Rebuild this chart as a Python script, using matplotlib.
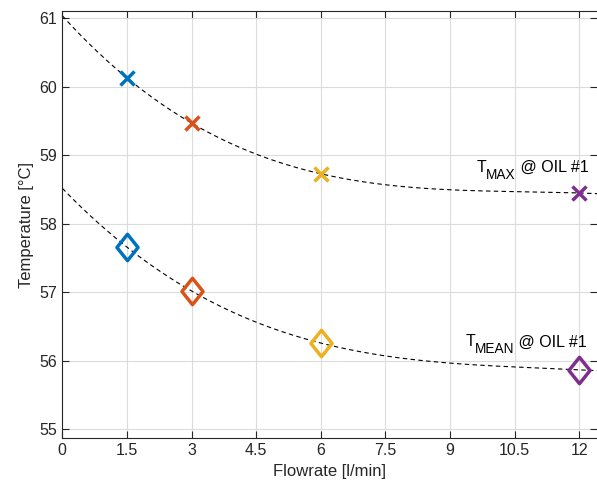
import numpy as np
import matplotlib
matplotlib.use('Agg')
import matplotlib.pyplot as plt
from matplotlib.path import Path

plt.rcParams['font.family'] = ['Liberation Sans', 'DejaVu Sans']

flow = [1.5, 3, 6, 12]
t_max = [60.13, 59.47, 58.73, 58.45]
t_mean = [57.66, 57.02, 56.26, 55.87]
colors = ['#0072BD', '#D95319', '#EDB120', '#7E2F8E']
xticks = [0, 1.5, 3, 4.5, 6, 7.5, 9, 10.5, 12]
yticks = [55, 56, 57, 58, 59, 60, 61]

# MATLAB style narrow diamond
diamond = Path([(0, 1), (0.8, 0), (0, -1), (-0.8, 0), (0, 1)],
               [Path.MOVETO, Path.LINETO, Path.LINETO, Path.LINETO, Path.CLOSEPOLY])

fig = plt.figure(figsize=(5.97, 4.91), dpi=100)
ax = fig.add_axes([62.3/597, 1 - 438.3/491, (597 - 62.3)/597, (438.3 - 10.7)/491])

# cubic fit through the points (dashed)
xx = np.linspace(0, 12.41, 300)
for ys in (t_max, t_mean):
    p = np.polyfit(flow, ys, 3)
    ax.plot(xx, np.polyval(p, xx), color='k', lw=0.8, dashes=(4, 3), zorder=2)

for i in range(len(flow)):
    ax.plot(flow[i], t_max[i], 'x', color=colors[i], ms=10, mew=2.5, zorder=3)
    ax.plot(flow[i], t_mean[i], marker=diamond, ls='none', mfc='none', mec=colors[i], ms=19, mew=2.5, zorder=3)


def sub_label(x, y, main, sub, rest):
    # label with a big MATLAB-like subscript
    t1 = ax.text(x, y, main, fontsize=11.5, ha='left', va='baseline')
    fig.canvas.draw()
    w1 = t1.get_window_extent().width * 72 / fig.dpi
    t2 = ax.annotate(sub, (x, y), xytext=(w1, -5), textcoords='offset points',
                     fontsize=9.8, ha='left', va='baseline')
    fig.canvas.draw()
    w2 = t2.get_window_extent().width * 72 / fig.dpi
    ax.annotate(rest, (x, y), xytext=(w1 + w2, 0), textcoords='offset points',
                fontsize=11.5, ha='left', va='baseline')


sub_label(9.605, 58.76, 'T', 'MAX', ' @ OIL #1')
sub_label(9.35, 56.21, 'T', 'MEAN', ' @ OIL #1')

ax.set_xlim(0, 12.41)
ax.set_ylim(54.87, 61.11)
ax.set_xticks(xticks)
ax.set_xticklabels(['0', '1.5', '3', '4.5', '6', '7.5', '9', '10.5', '12'])
ax.set_yticks(yticks)
ax.grid(True, color='#dcdcdc', lw=0.8)
ax.set_axisbelow(True)
ax.tick_params(direction='in', top=True, right=True, labelsize=11.5, colors='#262626', length=5)
for s in ax.spines.values():
    s.set_color('#262626')
ax.spines['right'].set_visible(False)
ax.set_xlabel('Flowrate [l/min]', fontsize=12, color='#262626')
ax.set_ylabel('Temperature [°C]', fontsize=12, color='#262626')

fig.savefig('out.png', dpi=100)
